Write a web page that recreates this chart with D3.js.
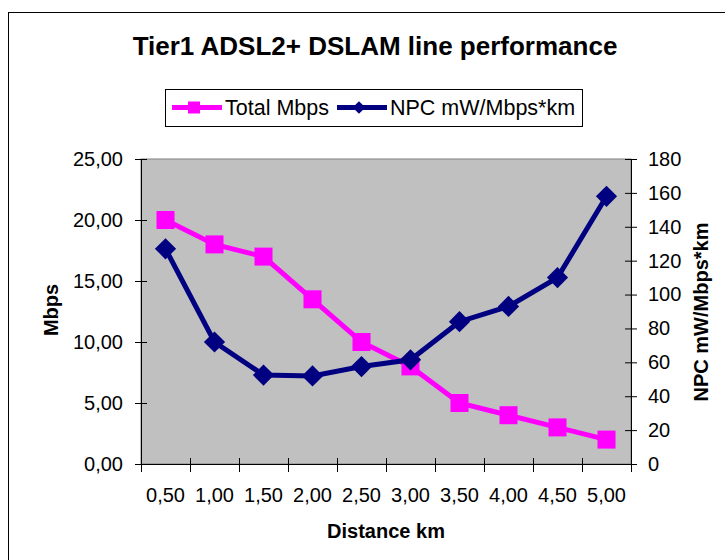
<!DOCTYPE html>
<html>
<head>
<meta charset="utf-8">
<script src="https://cdn.jsdelivr.net/npm/d3@7"></script>
<style>
  body { margin: 0; background: #fff; }
  svg { display: block; font-family: "Liberation Sans", Arial, sans-serif; }
</style>
</head>
<body>
<div class="chart"></div>
<script>
// data
const distances = ["0,50", "1,00", "1,50", "2,00", "2,50", "3,00", "3,50", "4,00", "4,50", "5,00"];
const totalMbps = [20, 18, 17, 13.5, 10, 8, 5, 4, 3, 2];
const npcValues = [127, 72, 52.5, 52, 57.5, 61.5, 84, 93, 110, 158];
const leftTicks = [0, 5, 10, 15, 20, 25];
const rightTicks = [0, 20, 40, 60, 80, 100, 120, 140, 160, 180];

const W = 725, H = 560;
const plotLeft = 141, plotRight = 631, plotTop = 159, plotBottom = 464;
const pink = "#FF00FF", navy = "#000080";
const fmt = (v) => v.toFixed(2).replace(".", ",");

const svg = d3.select(".chart").append("svg").attr("width", W).attr("height", H);

// chart frame (runs off the right and bottom edges)
svg.append("rect")
  .attr("x", 8.5).attr("y", 12.5)
  .attr("width", 740).attr("height", 600)
  .attr("fill", "#fff").attr("stroke", "#000");

// title
svg.append("text")
  .attr("x", 375).attr("y", 55)
  .attr("text-anchor", "middle")
  .attr("font-size", 26).attr("font-weight", "bold")
  .text("Tier1 ADSL2+ DSLAM line performance");

// scales
const x = d3.scaleBand().domain(distances).range([plotLeft, plotRight]);
const xIdx = d3.scaleLinear().domain([0, distances.length]).range([plotLeft, plotRight]);
const yL = d3.scaleLinear().domain([0, 25]).range([plotBottom, plotTop]);
const yR = d3.scaleLinear().domain([0, 180]).range([plotBottom, plotTop]);
const cx = (d) => x(d) + x.bandwidth() / 2;

// plot area
svg.append("rect")
  .attr("x", plotLeft).attr("y", plotTop)
  .attr("width", plotRight - plotLeft).attr("height", plotBottom - plotTop)
  .attr("fill", "#C0C0C0").attr("stroke", "#808080");

// axes with crossing ticks
const crossTicks = (g, dir) => {
  g.select(".domain").attr("stroke", "#000");
  g.selectAll(".tick line").attr("stroke", "#000").each(function () {
    const l = d3.select(this);
    if (dir === "x") l.attr("y1", -6);
    else if (dir === "l") l.attr("x1", 6);
    else l.attr("x1", -6);
  });
};

svg.append("g")
  .attr("transform", `translate(${plotLeft},0)`)
  .call(d3.axisLeft(yL).tickValues(leftTicks).tickFormat(fmt).tickSizeOuter(0).tickSize(6).tickPadding(12))
  .call((g) => crossTicks(g, "l"))
  .call((g) => g.selectAll("text").attr("font-size", 20).attr("font-family", null).attr("fill", "#000"));

svg.append("g")
  .attr("transform", `translate(${plotRight},0)`)
  .call(d3.axisRight(yR).tickValues(rightTicks).tickSizeOuter(0).tickSize(6).tickPadding(11))
  .call((g) => crossTicks(g, "r"))
  .call((g) => g.selectAll("text").attr("font-size", 20).attr("font-family", null).attr("fill", "#000"));

svg.append("g")
  .attr("transform", `translate(0,${plotBottom})`)
  .call(d3.axisBottom(xIdx).ticks(distances.length).tickFormat("").tickSizeOuter(0).tickSize(8))
  .call((g) => crossTicks(g, "x"));

svg.append("g")
  .attr("transform", `translate(0,${plotBottom})`)
  .call(d3.axisBottom(x).tickSize(0).tickPadding(24))
  .call((g) => g.select(".domain").remove())
  .call((g) => g.selectAll("text").attr("font-size", 20).attr("font-family", null).attr("fill", "#000"));

// axis titles
svg.append("text")
  .attr("transform", "translate(58,310) rotate(-90)")
  .attr("text-anchor", "middle").attr("font-size", 20).attr("font-weight", "bold")
  .text("Mbps");
svg.append("text")
  .attr("transform", "translate(708,312) rotate(-90)")
  .attr("text-anchor", "middle").attr("font-size", 20).attr("font-weight", "bold")
  .text("NPC mW/Mbps*km");
svg.append("text")
  .attr("x", 386).attr("y", 538)
  .attr("text-anchor", "middle").attr("font-size", 20).attr("font-weight", "bold")
  .text("Distance km");

// series
const square = d3.symbol().type(d3.symbolSquare).size(18 * 18);
const diamond = d3.symbol().type(d3.symbolSquare).size(15 * 15);

const line = (yScale) => d3.line().x((d, i) => cx(distances[i])).y((d) => yScale(d));

svg.append("path")
  .datum(totalMbps)
  .attr("d", line(yL))
  .attr("fill", "none").attr("stroke", pink).attr("stroke-width", 5);
svg.selectAll(".sq").data(totalMbps).enter().append("path")
  .attr("class", "sq")
  .attr("d", square)
  .attr("transform", (d, i) => `translate(${cx(distances[i])},${yL(d)})`)
  .attr("fill", pink);

svg.append("path")
  .datum(npcValues)
  .attr("d", line(yR))
  .attr("fill", "none").attr("stroke", navy).attr("stroke-width", 5);
svg.selectAll(".dm").data(npcValues).enter().append("path")
  .attr("class", "dm")
  .attr("d", diamond)
  .attr("transform", (d, i) => `translate(${cx(distances[i])},${yR(d)}) rotate(45)`)
  .attr("fill", navy);

// legend
const lg = svg.append("g");
lg.append("rect")
  .attr("x", 165.5).attr("y", 89.5).attr("width", 417).attr("height", 37)
  .attr("fill", "#fff").attr("stroke", "#000");
const items = [
  { label: "Total Mbps", color: pink, x0: 172, sym: d3.symbol().type(d3.symbolSquare).size(12 * 12), rot: 0 },
  { label: "NPC mW/Mbps*km", color: navy, x0: 337, sym: d3.symbol().type(d3.symbolSquare).size(9 * 9), rot: 45 },
];
items.forEach((it) => {
  lg.append("line")
    .attr("x1", it.x0).attr("x2", it.x0 + 50).attr("y1", 107.5).attr("y2", 107.5)
    .attr("stroke", it.color).attr("stroke-width", 5);
  lg.append("path")
    .attr("d", it.sym)
    .attr("transform", `translate(${it.x0 + 22},107.5) rotate(${it.rot})`)
    .attr("fill", it.color);
  lg.append("text")
    .attr("x", it.x0 + 53).attr("y", 114.5)
    .attr("font-size", 21.5)
    .text(it.label);
});
</script>
</body>
</html>
